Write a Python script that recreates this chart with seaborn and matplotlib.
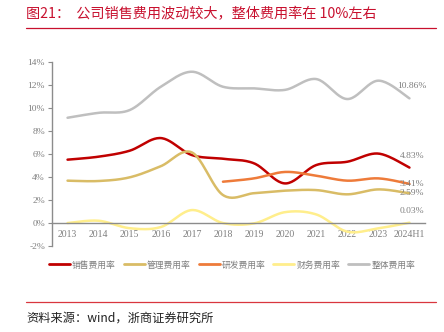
import numpy as np
import pandas as pd
import matplotlib
matplotlib.use("Agg")
import matplotlib.pyplot as plt
import seaborn as sns

# ---- data -------------------------------------------------------------
years = ["2013", "2014", "2015", "2016", "2017", "2018", "2019",
         "2020", "2021", "2022", "2023", "2024H1"]
sales_rate = [5.52, 5.78, 6.30, 7.40, 5.92, 5.60, 5.20, 3.45, 5.05, 5.34, 6.05, 4.83]
admin_rate = [3.69, 3.66, 3.98, 4.95, 6.15, 2.44, 2.60, 2.82, 2.87, 2.50, 2.93, 2.59]
rd_rate = [None, None, None, None, None, 3.60, 3.89, 4.45, 4.12, 3.69, 3.89, 3.41]
fin_rate = [0.00, 0.20, -0.45, -0.35, 1.13, 0.00, -0.03, 0.95, 0.75, -0.75, -0.46, 0.03]
total_rate = [9.17, 9.60, 9.84, 11.87, 13.18, 11.87, 11.73, 11.60, 12.54, 10.80, 12.40, 10.86]

series_names = ["销售费用率", "管理费用率", "研发费用率", "财务费用率", "整体费用率"]
series_values = [sales_rate, admin_rate, rd_rate, fin_rate, total_rate]
series_colors = ["#C00000", "#D9BC66", "#EE7B3A", "#FFEE8C", "#BFBFBF"]
end_labels = {"整体费用率": "10.86%", "销售费用率": "4.83%", "研发费用率": "3.41%",
              "管理费用率": "2.59%", "财务费用率": "0.03%"}
label_offsets = {"整体费用率": (-12, 12), "销售费用率": (-10, 12), "研发费用率": (-10, 0),
                 "管理费用率": (-10, 0), "财务费用率": (-10, 12)}

y_ticks = [-2, 0, 2, 4, 6, 8, 10, 12, 14]


def smooth(xs, ys, steps=24):
    """Bezier smoothing through the points (Catmull-Rom style control points)."""
    xs = np.asarray(xs, float)
    ys = np.asarray(ys, float)
    n = len(xs)
    px, py = [], []
    for i in range(n - 1):
        x0, y0 = (xs[i - 1], ys[i - 1]) if i > 0 else (xs[i], ys[i])
        x1, y1 = xs[i], ys[i]
        x2, y2 = xs[i + 1], ys[i + 1]
        x3, y3 = (xs[i + 2], ys[i + 2]) if i + 2 < n else (x2, y2)
        c1x, c1y = x1 + (x2 - x0) / 6, y1 + (y2 - y0) / 6
        c2x, c2y = x2 - (x3 - x1) / 6, y2 - (y3 - y1) / 6
        t = np.linspace(0, 1, steps, endpoint=(i == n - 2))
        a, b, c, d = (1 - t) ** 3, 3 * (1 - t) ** 2 * t, 3 * (1 - t) * t ** 2, t ** 3
        px.extend(a * x1 + b * c1x + c * c2x + d * x2)
        py.extend(a * y1 + b * c1y + c * c2y + d * y2)
    return np.array(px), np.array(py)


# ---- figure -----------------------------------------------------------
sns.set_theme(style="white")
plt.rcParams["font.family"] = ["Noto Sans CJK SC", "DejaVu Sans"]
plt.rcParams["axes.unicode_minus"] = False

fig = plt.figure(figsize=(4.44, 3.32), dpi=100)
ax = fig.add_axes([52 / 444, 1 - 246 / 332, 373 / 444, (246 - 62.3) / 332])

axis_grey = "#8C8C8C"
text_grey = "#7F7F7F"

for name, vals, col in zip(series_names, series_values, series_colors):
    idx = [i for i, v in enumerate(vals) if v is not None]
    xv = np.array(idx, float)
    yv = np.array([vals[i] for i in idx], float)
    sx, sy = smooth(xv, yv)
    df = pd.DataFrame({"x": sx, "y": sy})
    sns.lineplot(data=df, x="x", y="y", sort=False, color=col, lw=1.8,
                 ax=ax, label=name, estimator=None)
    lab = end_labels[name]
    ox, oy = label_offsets[name]
    ax.annotate(lab, xy=(xv[-1], yv[-1]), xytext=(ox, oy), textcoords="offset pixels",
                ha="left", va="center", fontsize=6.8, color=text_grey,
                family=["Liberation Serif"])

ax.set_xlim(-0.5, len(years) - 0.5)
ax.set_ylim(-2, 14)
ax.set_xlabel("")
ax.set_ylabel("")

# x axis crosses at 0 with tick marks between categories
ax.spines["bottom"].set_position(("data", 0))
for s in ["top", "right"]:
    ax.spines[s].set_visible(False)
for s in ["bottom", "left"]:
    ax.spines[s].set_color(axis_grey)
    ax.spines[s].set_linewidth(1.0)

ax.set_xticks(range(len(years)))
ax.set_xticklabels(years, family=["Liberation Serif"], fontsize=7, color=text_grey)
ax.set_xticks(np.arange(-0.5, len(years)), minor=True)
ax.tick_params(axis="x", which="major", length=0, pad=5)
ax.tick_params(axis="x", which="minor", length=3, direction="inout", color=axis_grey, width=0.8)

ax.set_yticks(y_ticks)
ax.set_yticklabels([f"{v}%" for v in y_ticks], family=["Liberation Serif"],
                   fontsize=6.8, color=text_grey)
ax.tick_params(axis="y", length=3, direction="out", color=axis_grey, width=0.8, pad=2, left=True)

ax.get_legend().remove()
handles, labels = ax.get_legend_handles_labels()
leg = fig.legend(handles, labels, loc="center", bbox_to_anchor=(232 / 444, 1 - 265 / 332),
                 ncol=5, frameon=False, fontsize=6.3, handlelength=2.4, handletextpad=0.25,
                 columnspacing=0.9, labelcolor=text_grey)
for h in leg.get_lines():
    h.set_linewidth(2.0)

# title, rules and source note
red = "#C8102E"
fig.text(26 / 444, 1 - 14 / 332, "图21：  公司销售费用波动较大，整体费用率在 10%左右",
         color=red, fontsize=10.2, va="center", ha="left", fontweight="light")
fig.add_artist(plt.Line2D([26 / 444, 436 / 444], [1 - 28 / 332] * 2, color=red, lw=0.9))
fig.add_artist(plt.Line2D([26 / 444, 436 / 444], [1 - 302 / 332] * 2, color="#D9363E", lw=0.9))
fig.text(26 / 444, 1 - 318 / 332, "资料来源：wind，浙商证券研究所", color="#222222",
         fontsize=8.8, va="center", ha="left", fontweight="light")

fig.savefig("out.png", dpi=100, facecolor="white")
